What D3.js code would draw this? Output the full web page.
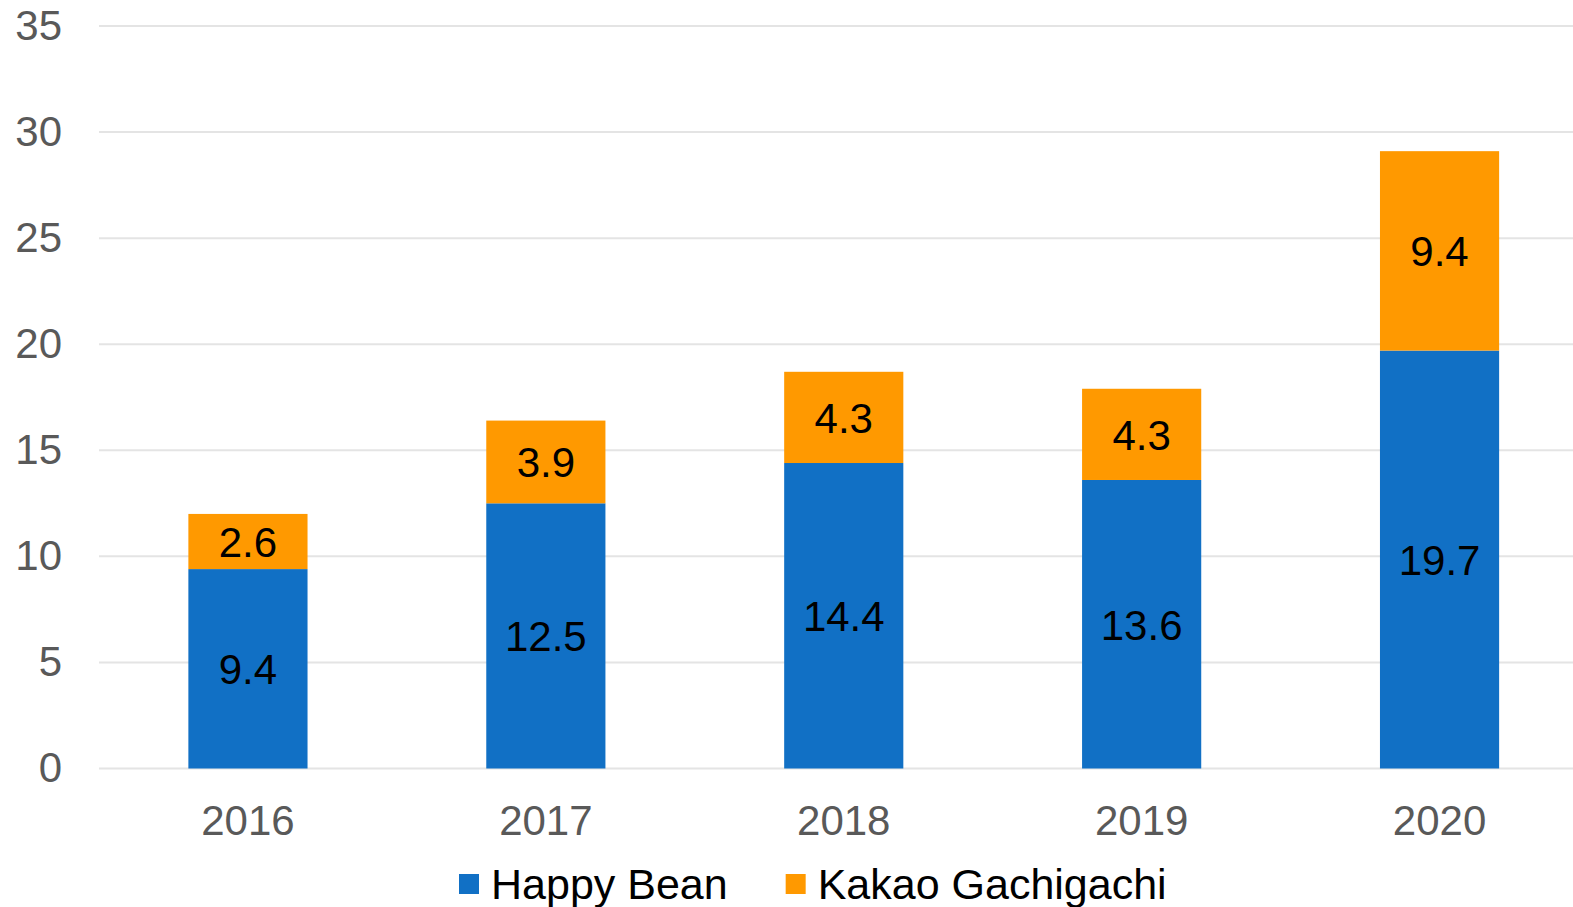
<!DOCTYPE html>
<html>
<head>
<meta charset="utf-8">
<script src="https://cdn.jsdelivr.net/npm/d3@7"></script>
<style>
  html, body { margin: 0; padding: 0; background: #fff; }
  svg { display: block; font-family: "Liberation Sans", Arial, sans-serif; }
</style>
</head>
<body>
<svg id="chart"></svg>
<script>
var years = ["2016", "2017", "2018", "2019", "2020"];
var happyBean = [9.4, 12.5, 14.4, 13.6, 19.7];
var kakaoGachigachi = [2.6, 3.9, 4.3, 4.3, 9.4];
var seriesNames = ["Happy Bean", "Kakao Gachigachi"];
var seriesColors = ["#1170c5", "#ff9900"];
var yTicks = [0, 5, 10, 15, 20, 25, 30, 35];

var WIDTH = 1573,
    HEIGHT = 907,
    MARGINS = { top: 26, right: 0, bottom: 138.5, left: 99 };

var vis = d3.select("#chart")
    .attr("width", WIDTH)
    .attr("height", HEIGHT);

var xScale = d3.scaleBand()
    .domain(years)
    .range([MARGINS.left, 1588.5])
    .paddingInner(0.6)
    .paddingOuter(0.3);

var yScale = d3.scaleLinear()
    .domain([0, 35])
    .range([HEIGHT - MARGINS.bottom, MARGINS.top]);

// gridlines
vis.append("g")
  .selectAll("line")
  .data(yTicks)
  .join("line")
    .attr("x1", MARGINS.left)
    .attr("x2", WIDTH)
    .attr("y1", function(d) { return yScale(d); })
    .attr("y2", function(d) { return yScale(d); })
    .attr("stroke", "#e4e4e4")
    .attr("stroke-width", 2);

// y axis labels
var yAxis = d3.axisLeft(yScale).tickValues(yTicks).tickSize(0).tickPadding(0);
vis.append("g")
    .attr("transform", "translate(62,0)")
    .call(yAxis)
    .call(function(g) { g.select(".domain").remove(); })
    .selectAll("text")
      .attr("font-size", 42)
      .attr("font-family", "Liberation Sans, Arial, sans-serif")
      .attr("fill", "#595959");

// x axis labels
var xAxis = d3.axisBottom(xScale).tickSize(0).tickPadding(0);
vis.append("g")
    .attr("transform", "translate(0," + (HEIGHT - MARGINS.bottom) + ")")
    .call(xAxis)
    .call(function(g) { g.select(".domain").remove(); })
    .selectAll("text")
      .attr("dy", null)
      .attr("y", 52)
      .attr("dominant-baseline", "central")
      .attr("font-size", 42)
      .attr("font-family", "Liberation Sans, Arial, sans-serif")
      .attr("fill", "#595959");

// stacked data
var rows = years.map(function(y, i) {
  return { year: y, "Happy Bean": happyBean[i], "Kakao Gachigachi": kakaoGachigachi[i] };
});
var stacked = d3.stack().keys(seriesNames)(rows);

var layers = vis.append("g")
  .selectAll("g")
  .data(stacked)
  .join("g")
    .attr("fill", function(d, i) { return seriesColors[i]; });

layers.selectAll("rect")
  .data(function(d) { return d; })
  .join("rect")
    .attr("x", function(d) { return xScale(d.data.year); })
    .attr("width", xScale.bandwidth())
    .attr("y", function(d) { return yScale(d[1]); })
    .attr("height", function(d) { return yScale(d[0]) - yScale(d[1]); });

// value labels
layers.selectAll("text")
  .data(function(d) { return d; })
  .join("text")
    .attr("x", function(d) { return xScale(d.data.year) + xScale.bandwidth() / 2; })
    .attr("y", function(d) { return yScale((d[0] + d[1]) / 2) + 1; })
    .attr("text-anchor", "middle")
    .attr("dominant-baseline", "central")
    .attr("font-size", 42)
    .attr("fill", "#000")
    .text(function(d) { return d3.format(".1f")(d[1] - d[0]); });

// legend
var legend = vis.append("g").attr("transform", "translate(459,884)");
var offset = 0;
seriesNames.forEach(function(name, i) {
  var item = legend.append("g").attr("transform", "translate(" + offset + ",0)");
  item.append("rect")
    .attr("x", 0).attr("y", -10)
    .attr("width", 20).attr("height", 20)
    .attr("fill", seriesColors[i]);
  var t = item.append("text")
    .attr("x", 32)
    .attr("y", 0)
    .attr("dominant-baseline", "central")
    .attr("font-size", 43)
    .attr("fill", "#000")
    .text(name);
  offset += 32 + t.node().getComputedTextLength() + 58;
});
</script>
</body>
</html>
